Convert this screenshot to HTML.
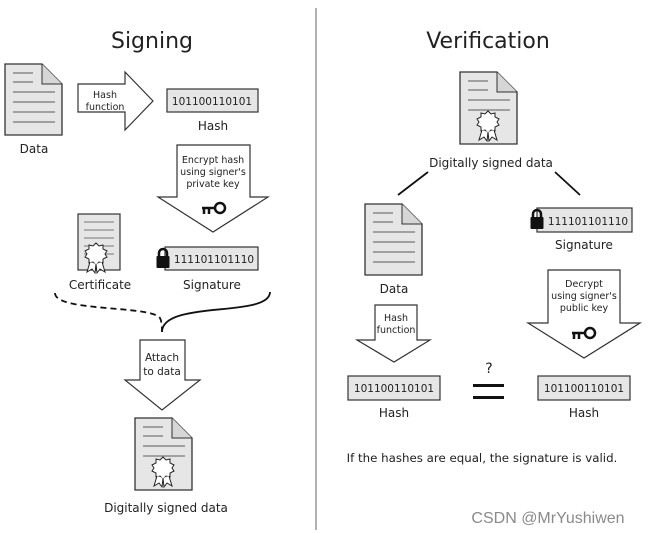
<!DOCTYPE html>
<html><head><meta charset="utf-8"><style>body{margin:0;background:#fff}svg{display:block}text{font-family:"DejaVu Sans","Liberation Sans",sans-serif;fill:#222}</style></head><body>
<svg width="648" height="534" viewBox="0 0 648 534" xmlns="http://www.w3.org/2000/svg">
<defs>
<g id="doc">
<path d="M0 0H37L57 20V71H0Z" fill="#e6e6e6" stroke="#333" stroke-width="1.3"/>
<path d="M37 0V20H57" fill="#d6d6d6" stroke="#333" stroke-width="1"/>
<g stroke="#777" stroke-width="1.2"><line x1="8" y1="9" x2="28" y2="9"/><line x1="8" y1="18" x2="28" y2="18"/><line x1="8" y1="28" x2="50" y2="28"/><line x1="8" y1="38" x2="50" y2="38"/><line x1="8" y1="48" x2="50" y2="48"/><line x1="8" y1="58" x2="50" y2="58"/></g>
</g>
<g id="seal"><polygon points="0,-11 3,-8 7,-9 7,-5 11,-3 9,0 11,3 7,5 7,9 3,8 0,11 -3,8 -7,9 -7,5 -11,3 -9,0 -11,-3 -7,-5 -7,-9 -3,-8" fill="#fff" stroke="#222" stroke-width="1"/><path d="M-6 8L-9 18L-4 15L-1 19L0 10M6 8L9 18L4 15L1 19L0 10" fill="#fff" stroke="#222" stroke-width="1"/></g>
<g id="sdoc">
<path d="M0 0H37L57 20V72H0Z" fill="#e6e6e6" stroke="#333" stroke-width="1.3"/>
<path d="M37 0V20H57" fill="#d6d6d6" stroke="#333"/>
<g stroke="#777" stroke-width="1.2"><line x1="8" y1="9" x2="28" y2="9"/><line x1="8" y1="18" x2="28" y2="18"/><line x1="8" y1="28" x2="50" y2="28"/><line x1="8" y1="38" x2="50" y2="38"/></g>
<use href="#seal" x="28" y="50"/>
</g>
<g id="key"><circle cx="6" cy="0" r="5" fill="none" stroke="#111" stroke-width="2.5"/><path d="M1 0H-12M-10 0V6M-5 0V6" stroke="#111" stroke-width="2.5" fill="none"/></g>
<g id="lock"><path d="M-4 -3V-6A4 4 0 0 1 4 -6V-3" fill="none" stroke="#111" stroke-width="2.5"/><rect x="-6.5" y="-3" width="13" height="12" fill="#111" rx="1"/></g>
</defs>

<line x1="316" y1="8" x2="316" y2="530" stroke="#666" stroke-width="1"/>
<text x="152" y="48" font-size="22" text-anchor="middle">Signing</text>
<text x="488" y="48" font-size="22" text-anchor="middle">Verification</text>

<!-- Signing -->
<use href="#doc" x="5" y="64"/>
<text x="34" y="153" font-size="12" text-anchor="middle">Data</text>
<path d="M78 84H125V72L153 101L125 130V112H78Z" fill="#fff" stroke="#333" stroke-width="1.2"/>
<text x="105" y="98" font-size="9.5" text-anchor="middle">Hash</text>
<text x="105" y="110" font-size="9.5" text-anchor="middle">function</text>
<rect x="167" y="89" width="91" height="23" fill="#e6e6e6" stroke="#333" stroke-width="1.2"/>
<text x="212" y="105" font-size="10.5" text-anchor="middle">101100110101</text>
<text x="213" y="130" font-size="12" text-anchor="middle">Hash</text>
<path d="M177 145H250V197H268L213 232L158 197H177Z" fill="#fff" stroke="#333" stroke-width="1.2"/>
<text x="213" y="163" font-size="9.5" text-anchor="middle">Encrypt hash</text>
<text x="213" y="175" font-size="9.5" text-anchor="middle">using signer's</text>
<text x="213" y="187" font-size="9.5" text-anchor="middle">private key</text>
<use href="#key" x="214" y="208"/>
<rect x="78" y="214" width="42" height="56" fill="#e6e6e6" stroke="#333" stroke-width="1.2"/>
<g stroke="#777"><line x1="84" y1="222" x2="114" y2="222"/><line x1="84" y1="230" x2="114" y2="230"/><line x1="84" y1="238" x2="114" y2="238"/><line x1="84" y1="246" x2="114" y2="246"/><line x1="84" y1="254" x2="114" y2="254"/></g>
<use href="#seal" x="96" y="254"/>
<text x="100" y="289" font-size="12" text-anchor="middle">Certificate</text>
<rect x="165" y="247" width="93" height="23" fill="#e6e6e6" stroke="#333" stroke-width="1.2"/>
<use href="#lock" x="163" y="259"/>
<text x="214" y="263" font-size="10.5" text-anchor="middle">111101101110</text>
<text x="212" y="289" font-size="12" text-anchor="middle">Signature</text>
<path d="M55 293C55 312 150 305 160 318C162 322 162 328 162 332" fill="none" stroke="#111" stroke-width="1.8" stroke-dasharray="6,4"/>
<path d="M162 332C162 300 270 318 270 292" fill="none" stroke="#111" stroke-width="1.8"/>
<path d="M140 340H185V380H200L162 410L125 380H140Z" fill="#fff" stroke="#333" stroke-width="1.2"/>
<text x="162" y="361" font-size="10.5" text-anchor="middle">Attach</text>
<text x="162" y="375" font-size="10.5" text-anchor="middle">to data</text>
<use href="#sdoc" x="135" y="418"/>
<text x="166" y="512" font-size="12" text-anchor="middle">Digitally signed data</text>

<!-- Verification -->
<use href="#sdoc" x="460" y="72"/>
<text x="491" y="167" font-size="12" text-anchor="middle">Digitally signed data</text>
<line x1="428" y1="172" x2="398" y2="195" stroke="#111" stroke-width="1.8"/>
<line x1="555" y1="172" x2="580" y2="195" stroke="#111" stroke-width="1.8"/>
<use href="#doc" x="365" y="204"/>
<text x="394" y="293" font-size="12" text-anchor="middle">Data</text>
<rect x="537" y="208" width="95" height="24" fill="#e6e6e6" stroke="#333" stroke-width="1.2"/>
<use href="#lock" x="537" y="220"/>
<text x="588" y="225" font-size="10.5" text-anchor="middle">111101101110</text>
<text x="584" y="249" font-size="12" text-anchor="middle">Signature</text>
<path d="M375 305H417V340H430L394 362L357 340H375Z" fill="#fff" stroke="#333" stroke-width="1.2"/>
<text x="396" y="321" font-size="9.5" text-anchor="middle">Hash</text>
<text x="396" y="333" font-size="9.5" text-anchor="middle">function</text>
<path d="M548 270H620V323H640L584 358L528 323H548Z" fill="#fff" stroke="#333" stroke-width="1.2"/>
<text x="584" y="287" font-size="9.5" text-anchor="middle">Decrypt</text>
<text x="584" y="299" font-size="9.5" text-anchor="middle">using signer's</text>
<text x="584" y="311" font-size="9.5" text-anchor="middle">public key</text>
<use href="#key" x="584" y="333"/>
<rect x="348" y="376" width="92" height="24" fill="#e6e6e6" stroke="#333" stroke-width="1.2"/>
<text x="394" y="392" font-size="10.5" text-anchor="middle">101100110101</text>
<rect x="538" y="376" width="92" height="24" fill="#e6e6e6" stroke="#333" stroke-width="1.2"/>
<text x="584" y="392" font-size="10.5" text-anchor="middle">101100110101</text>
<text x="394" y="417" font-size="12" text-anchor="middle">Hash</text>
<text x="584" y="417" font-size="12" text-anchor="middle">Hash</text>
<text x="489" y="373" font-size="14" text-anchor="middle">?</text>
<rect x="473" y="384" width="31" height="3" fill="#111"/>
<rect x="473" y="396" width="31" height="3" fill="#111"/>
<text x="482" y="462" font-size="11.8" text-anchor="middle">If the hashes are equal, the signature is valid.</text>
<text x="548" y="523" font-size="16" text-anchor="middle" style="fill:#8a8a8a;font-family:'Liberation Sans','Noto Sans CJK SC',sans-serif">CSDN @MrYushiwen</text>
</svg>
</body></html>
